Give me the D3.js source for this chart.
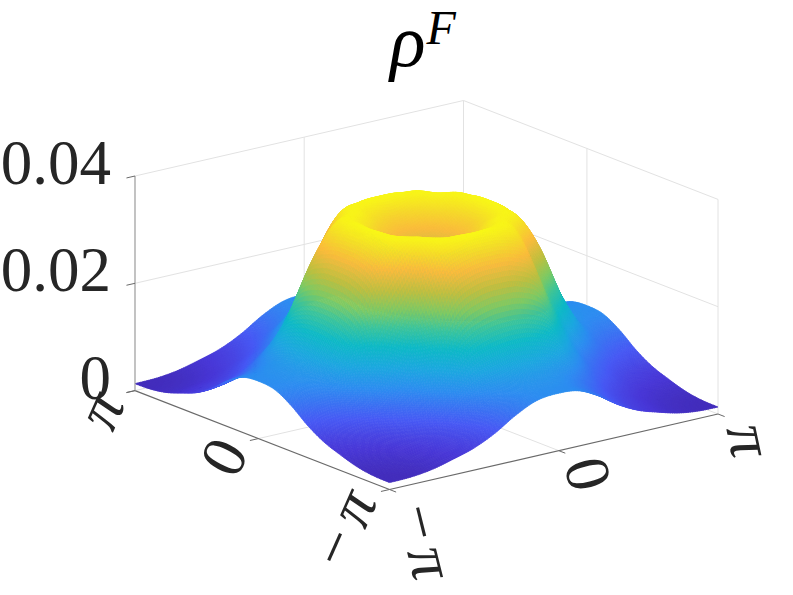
<!DOCTYPE html>
<html>
<head>
<meta charset="utf-8">
<script src="https://cdn.jsdelivr.net/npm/d3@7"></script>
<style>
  html, body { margin: 0; background: #fff; }
  text { font-family: "Liberation Serif", serif; fill: #262626; }
</style>
</head>
<body>
<svg id="chart" width="793" height="595"></svg>
<script>
// Surface heights in units of 1e-4. Rows run along y, columns along x
const zGrid = [
  [ 13,  14,  19,  29,  41,  60,  85, 103, 107, 103,  85,  60,  41,  29,  19,  14,  13],
  [ 14,  16,  22,  34,  47,  68,  92, 108, 112, 108,  92,  68,  47,  34,  22,  16,  14],
  [ 19,  22,  30,  42,  60,  88, 115, 130, 135, 130, 115,  88,  60,  42,  30,  22,  19],
  [ 29,  34,  42,  60,  85, 128, 180, 200, 205, 200, 180, 128,  85,  60,  42,  34,  29],
  [ 41,  47,  60,  85, 120, 190, 272, 296, 300, 296, 272, 190, 120,  85,  60,  47,  41],
  [ 60,  68,  88, 128, 190, 252, 330, 344, 346, 344, 330, 252, 190, 128,  88,  68,  60],
  [ 85,  92, 115, 180, 272, 330, 344, 326, 312, 326, 344, 330, 272, 180, 115,  92,  85],
  [103, 108, 130, 200, 296, 344, 326, 296, 284, 296, 326, 344, 296, 200, 130, 108, 103],
  [107, 112, 135, 205, 300, 346, 312, 284, 272, 284, 312, 346, 300, 205, 135, 112, 107],
  [103, 108, 130, 200, 296, 344, 326, 296, 284, 296, 326, 344, 296, 200, 130, 108, 103],
  [ 85,  92, 115, 180, 272, 330, 344, 326, 312, 326, 344, 330, 272, 180, 115,  92,  85],
  [ 60,  68,  88, 128, 190, 252, 330, 344, 346, 344, 330, 252, 190, 128,  88,  68,  60],
  [ 41,  47,  60,  85, 120, 190, 272, 296, 300, 296, 272, 190, 120,  85,  60,  47,  41],
  [ 29,  34,  42,  60,  85, 128, 180, 200, 205, 200, 180, 128,  85,  60,  42,  34,  29],
  [ 19,  22,  30,  42,  60,  88, 115, 130, 135, 130, 115,  88,  60,  42,  30,  22,  19],
  [ 14,  16,  22,  34,  47,  68,  92, 108, 112, 108,  92,  68,  47,  34,  22,  16,  14],
  [ 13,  14,  19,  29,  41,  60,  85, 103, 107, 103,  85,  60,  41,  29,  19,  14,  13]
];

const xyTicks = [-Math.PI, 0, Math.PI];
const zTicks = [0, 0.02, 0.04];
const zTickLabels = ["0", "0.02", "0.04"];
const colorStops = [0, 0.09, 0.18, 0.30, 0.39, 0.49, 0.58, 0.66, 0.75, 0.85, 0.93, 1];
const colorValues = ["#3e26a8", "#4736d6", "#4658f4", "#2c8cf0", "#1ca6e0", "#0db9c6",
  "#3cc49a", "#80ca62", "#c0bf3f", "#fbbb3c", "#f5dd28", "#f9fb15"];

const svg = d3.select("#chart");
const subdiv = 11;

// box corners on the floor, the view is a fixed projection of the MATLAB axes
const front = [389.5, 489.5];
const right = [718, 414];
const left = [135, 390.6];

// the 0 ticks sit a little past the middle because of the perspective
const xScale = d3.scaleLinear().domain([-Math.PI, 0, Math.PI]).range([0, 0.515, 1]);
const yScale = d3.scaleLinear().domain([-Math.PI, 0, Math.PI]).range([0, 0.515, 1]);
const zScale = d3.scaleLinear().domain([0, 0.04]).range([0, 214.6]);
const colorScale = d3.scaleLinear()
  .domain(colorStops.map((d) => d * 0.035))
  .range(colorValues)
  .clamp(true);

function project(x, y, z) {
  const tx = xScale(x);
  const ty = yScale(y);
  return [
    front[0] + tx * (right[0] - front[0]) + ty * (left[0] - front[0]),
    front[1] + tx * (right[1] - front[1]) + ty * (left[1] - front[1]) - zScale(z),
  ];
}

function drawLine(p1, p2, color, width) {
  svg.append("line")
    .attr("x1", p1[0]).attr("y1", p1[1])
    .attr("x2", p2[0]).attr("y2", p2[1])
    .attr("stroke", color)
    .attr("stroke-width", width);
}

// Grid on the two back walls and the floor
const gridColor = "#e2e2e2";
const PI = Math.PI;
const zTop = 0.04;
drawLine(project(-PI, PI, zTop), project(PI, PI, zTop), gridColor, 1);
drawLine(project(PI, PI, zTop), project(PI, -PI, zTop), gridColor, 1);
drawLine(project(-PI, PI, 0), project(PI, PI, 0), gridColor, 1);
drawLine(project(PI, PI, 0), project(PI, -PI, 0), gridColor, 1);
drawLine(project(PI, PI, 0), project(PI, PI, zTop), gridColor, 1);
drawLine(project(PI, -PI, 0), project(PI, -PI, zTop), gridColor, 1);
drawLine(project(-PI, PI, 0.02), project(PI, PI, 0.02), gridColor, 1);
drawLine(project(PI, PI, 0.02), project(PI, -PI, 0.02), gridColor, 1);
drawLine(project(0, PI, 0), project(0, PI, zTop), gridColor, 1);
drawLine(project(PI, 0, 0), project(PI, 0, zTop), gridColor, 1);
drawLine(project(0, -PI, 0), project(0, PI, 0), gridColor, 1);
drawLine(project(-PI, 0, 0), project(PI, 0, 0), gridColor, 1);

// Surface: smooth the height table for drawing and paint it back to front
function catmull(p0, p1, p2, p3, t) {
  return 0.5 * (2 * p1 + (p2 - p0) * t +
    (2 * p0 - 5 * p1 + 4 * p2 - p3) * t * t +
    (3 * p1 - p0 - 3 * p2 + p3) * t * t * t);
}

function heightAt(gx, gy) {
  const n = zGrid.length - 1;
  const ix = Math.min(Math.floor(gx), n - 1);
  const iy = Math.min(Math.floor(gy), n - 1);
  const at = (r, c) => zGrid[Math.max(0, Math.min(n, r))][Math.max(0, Math.min(n, c))];
  const rows = [-1, 0, 1, 2].map((k) =>
    catmull(at(iy + k, ix - 1), at(iy + k, ix), at(iy + k, ix + 1), at(iy + k, ix + 2), gx - ix)
  );
  return catmull(rows[0], rows[1], rows[2], rows[3], gy - iy) * 1e-4;
}

const cells = (zGrid.length - 1) * subdiv;
const uScale = d3.scaleLinear().domain([0, cells]).range([-PI, PI]);
const quads = [];
for (let j = cells - 1; j >= 0; j--) {
  for (let i = cells - 1; i >= 0; i--) {
    const corners = [[i, j], [i + 1, j], [i + 1, j + 1], [i, j + 1]].map(([a, b]) => {
      const z = heightAt(a / subdiv, b / subdiv);
      return { p: project(uScale(a), uScale(b), z), z: z };
    });
    quads.push({ points: corners.map((c) => c.p), z: d3.mean(corners, (c) => c.z) });
  }
}

svg.append("g")
  .selectAll("path")
  .data(quads)
  .join("path")
  .attr("d", (d) => "M" + d.points.join("L") + "Z")
  .attr("fill", (d) => colorScale(d.z))
  .attr("stroke", (d) => colorScale(d.z))
  .attr("stroke-width", 0.7);

// Axis lines and ticks
const axisColor = "#6a6a6a";
const tickLen = 0.026;
drawLine(project(-PI, -PI, 0), project(PI, -PI, 0), axisColor, 1.2);
drawLine(project(-PI, -PI, 0), project(-PI, PI, 0), axisColor, 1.2);
drawLine(project(-PI, PI, 0), project(-PI, PI, zTop), "#9a9a9a", 1.2);
xyTicks.forEach((t) => {
  const p = project(t, -PI, 0);
  drawLine(p, [p[0] - tickLen * (left[0] - front[0]), p[1] - tickLen * (left[1] - front[1])], axisColor, 1);
  const q = project(-PI, t, 0);
  drawLine(q, [q[0] - tickLen * (right[0] - front[0]), q[1] - tickLen * (right[1] - front[1])], axisColor, 1);
});
zTicks.forEach((t) => {
  const p = project(-PI, PI, t);
  drawLine(p, [p[0] - tickLen * (right[0] - front[0]), p[1] - tickLen * (right[1] - front[1])], axisColor, 1);
});

// Tick labels
const labelSize = 63;
svg.append("g")
  .selectAll("text")
  .data(zTicks)
  .join("text")
  .attr("x", 111)
  .attr("y", (d) => project(-PI, PI, d)[1] + 8)
  .attr("text-anchor", "end")
  .attr("font-size", labelSize)
  .text((d, i) => zTickLabels[i]);

function rotatedLabel(text, x, y, angle, gap) {
  const label = svg.append("text")
    .attr("text-anchor", "middle")
    .attr("dominant-baseline", "central")
    .attr("font-size", labelSize)
    .attr("transform", `translate(${x},${y}) rotate(${angle})`);
  if (text.endsWith("π")) {
    if (text.length > 1) label.append("tspan").text(text[0]);
    label.append("tspan")
      .attr("dx", gap)
      .attr("font-style", "italic")
      .text("π");
  } else {
    label.text(text);
  }
}

rotatedLabel("π", 100, 410, -66, 0);
rotatedLabel("0", 224, 457, -63, 0);
rotatedLabel("−π", 343, 528, -66, 10);
rotatedLabel("−π", 426, 541, 76, 8);
rotatedLabel("0", 588, 474, 76, 0);
rotatedLabel("π", 750, 440, 78, 0);

// Title
const title = svg.append("text")
  .attr("x", 390)
  .attr("y", 66)
  .attr("font-size", 74)
  .attr("font-style", "italic")
  .style("fill", "#000");
title.append("tspan").text("ρ");
title.append("tspan").attr("dy", -22).attr("dx", 1).attr("font-size", 48).text("F");
</script>
</body>
</html>
